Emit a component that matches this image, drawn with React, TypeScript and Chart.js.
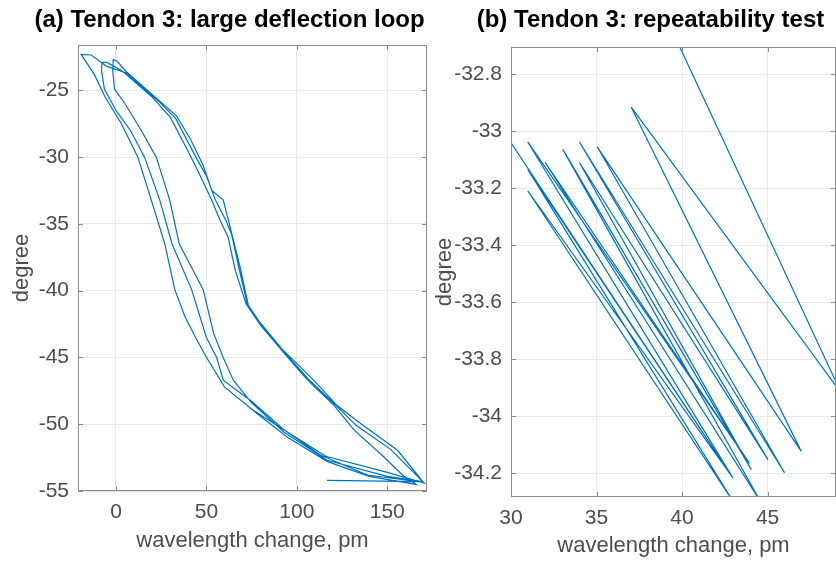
import React, { useEffect, useRef } from 'react';
import { Chart, registerables } from 'chart.js';

Chart.register(...registerables);

// ---------- Panel (a): large deflection loop ----------
const loopTitle = '(a) Tendon 3: large deflection loop';
const loopXLabel = 'wavelength change, pm';
const loopYLabel = 'degree';
const loopXTicks = [0, 50, 100, 150];
const loopYTicks = [-55, -50, -45, -40, -35, -30, -25];

const loopX = [
  116.8, 169.5,
  150, 116.8, 93, 75, 64.9, 59.3, 54, 48.2, 35, 29.7, 22.3, 14, 5, -0.8, -1.8, -1.5, 0.5,
  5.7, 24.2, 33.4, 41, 48.2, 53, 59.3, 64, 68.6, 73.2, 79.7, 92, 109.3, 122.3, 135.3, 155.7, 170,
  139, 113, 92.7, 75.1, 59.3, 55.7, 50, 41.8, 31, 24.2, 15.8, 8, 0, -6.4, -8, -7.7, -5,
  3, 20, 30, 40.8, 47, 52.9, 57.5, 62, 66, 72, 80, 95, 106, 120, 131.5, 148.2, 158.4, 166,
  140, 117, 95, 78, 60, 50.1, 44, 38, 32.5, 27, 19.5, 12.1, 3, -6, -12, -19.3, -13.8,
  -5, 5.7, 24.2, 33, 45, 50, 55, 61, 64, 68, 73, 80, 93, 107, 121, 133, 152, 170.5,
  150, 116, 95, 74.2,
];
const loopY = [
  -54.2, -54.3,
  -53.9, -52.7, -50.6, -48.4, -46.7, -45, -43.2, -39.9, -36.5, -33.2, -30, -28, -26, -24.9, -23.5, -22.7, -22.8,
  -23.6, -25.8, -26.9, -28.6, -30.6, -32.5, -33.2, -35.7, -38.2, -41.1, -42.4, -44.4, -46.7, -48.6, -49.95, -51.95, -54.35,
  -53.8, -52.3, -50.4, -48.3, -46.7, -45, -43.5, -39.9, -36.5, -33.2, -30, -28, -26.5, -24.9, -23.5, -22.9, -22.9,
  -23.5, -25.5, -27, -29.8, -31.5, -33.2, -34.7, -36, -38.5, -41, -42.6, -45, -46.7, -48.5, -50.4, -52.45, -53.8, -54.5,
  -53.9, -52.8, -51, -49.2, -47.2, -45, -43.5, -41.9, -39.9, -36.5, -33.2, -30, -27.5, -25.5, -23.8, -22.3, -22.35,
  -23.2, -23.7, -25.9, -27.1, -30.2, -31.4, -33.2, -34.8, -35.8, -38.3, -41.2, -42.5, -44.6, -46.7, -48.5, -50.1, -51.9, -54.4,
  -53.6, -52.4, -50.6, -48.8,
];

// ---------- Panel (b): repeatability test ----------
const repTitle = '(b) Tendon 3: repeatability test';
const repXLabel = 'wavelength change, pm';
const repYLabel = 'degree';
const repXTicks = [30, 35, 40, 45];
const repYTicks = [-34.2, -34, -33.8, -33.6, -33.4, -33.2, -33, -32.8];

const repX = [
  39.4, 49.3, 37.03, 46.97, 35.04, 45.99, 34.0, 45.02, 34.0, 44.05, 33.03, 44.6,
  32.0, 43.95, 30.98, 42.97, 30.98, 43.0, 30.98, 42.9, 29.0,
];
const repY = [
  -32.645, -33.918, -32.916, -34.123, -33.055, -34.198, -33.038, -34.152, -33.11, -34.187, -33.064, -34.3,
  -33.11, -34.165, -33.038, -34.216, -33.134, -34.3, -33.209, -34.21, -32.95,
];

const FONT = '"Liberation Sans", Arial, Helvetica, sans-serif';
const LINE_COLOR = '#0072BD';
const TEXT_GRAY = '#4d4d4d';
const GRID = '#e9e9e9';
const BOX = '#8a8a8a';

const fmt = (v: number) => String(+(+v).toFixed(3));

const titlePlugin = {
  id: 'panelTitle',
  afterDraw(chart: any, _args: any, opts: any) {
    const { ctx, chartArea } = chart;
    ctx.save();
    ctx.font = `bold 24px ${FONT}`;
    ctx.fillStyle = '#000';
    ctx.textAlign = 'center';
    ctx.textBaseline = 'middle';
    ctx.fillText(opts.text, (chartArea.left + chartArea.right) / 2 + opts.shift, opts.y);
    ctx.restore();
  },
};

const boxPlugin = {
  id: 'matlabBox',
  afterDatasetsDraw(chart: any) {
    const { ctx, chartArea, scales } = chart;
    const { left, right, top, bottom } = chartArea;
    const len = 5;
    ctx.save();
    ctx.strokeStyle = BOX;
    ctx.lineWidth = 1;
    ctx.beginPath();
    ctx.rect(left + 0.5, top + 0.5, right - left - 1, bottom - top - 1);
    ctx.stroke();
    ctx.beginPath();
    scales.x.ticks.forEach((t: any) => {
      const p = Math.round(scales.x.getPixelForValue(t.value)) + 0.5;
      ctx.moveTo(p, bottom); ctx.lineTo(p, bottom - len);
      ctx.moveTo(p, top); ctx.lineTo(p, top + len);
    });
    scales.y.ticks.forEach((t: any) => {
      const p = Math.round(scales.y.getPixelForValue(t.value)) + 0.5;
      ctx.moveTo(left, p); ctx.lineTo(left + len, p);
      ctx.moveTo(right, p); ctx.lineTo(right - len, p);
    });
    ctx.stroke();
    ctx.restore();
  },
};

type PanelCfg = {
  xs: number[]; ys: number[];
  xMin: number; xMax: number; yMin: number; yMax: number;
  xTicks: number[]; yTicks: number[];
  xLabel: string; yLabel: string; title: string;
  padTop: number; padRight: number;
  yAxisWidth: number; xAxisHeight: number;
  yTitlePad: number; xTitlePad: number;
};

function makeConfig(c: PanelCfg): any {
  return {
    type: 'scatter',
    data: {
      datasets: [
        {
          data: c.xs.map((x, i) => ({ x, y: c.ys[i] })),
          showLine: true,
          borderColor: LINE_COLOR,
          backgroundColor: LINE_COLOR,
          borderWidth: 1.2,
          pointRadius: 0,
          pointHoverRadius: 0,
          tension: 0,
        },
      ],
    },
    options: {
      responsive: false,
      animation: false,
      devicePixelRatio: 1,
      layout: { padding: { top: c.padTop, right: c.padRight, left: 0, bottom: 0 } },
      plugins: {
        legend: { display: false },
        tooltip: { enabled: false },
        title: { display: false },
        panelTitle: { text: c.title, shift: -23, y: 20 },
      },
      scales: {
        x: {
          type: 'linear',
          min: c.xMin,
          max: c.xMax,
          afterBuildTicks: (axis: any) => { axis.ticks = c.xTicks.map((v) => ({ value: v })); },
          afterFit: (axis: any) => { axis.height = c.xAxisHeight; },
          ticks: {
            callback: (v: any) => fmt(v),
            color: TEXT_GRAY,
            font: { family: FONT, size: 21 },
            padding: 9,
            maxRotation: 0,
            autoSkip: false,
          },
          grid: { color: GRID, drawTicks: false, lineWidth: 1 },
          border: { display: false },
          title: {
            display: true,
            text: c.xLabel,
            color: TEXT_GRAY,
            font: { family: FONT, size: 22 },
            padding: { top: 0, bottom: c.xTitlePad },
          },
        },
        y: {
          type: 'linear',
          min: c.yMin,
          max: c.yMax,
          afterBuildTicks: (axis: any) => { axis.ticks = c.yTicks.map((v) => ({ value: v })); },
          afterFit: (axis: any) => { axis.width = c.yAxisWidth; },
          ticks: {
            callback: (v: any) => fmt(v),
            color: TEXT_GRAY,
            font: { family: FONT, size: 21 },
            padding: 9,
            autoSkip: false,
          },
          grid: { color: GRID, drawTicks: false, lineWidth: 1 },
          border: { display: false },
          title: {
            display: true,
            text: c.yLabel,
            color: TEXT_GRAY,
            font: { family: FONT, size: 22 },
            padding: { top: c.yTitlePad, bottom: 0 },
          },
        },
      },
    },
    plugins: [titlePlugin, boxPlugin],
  };
}

export default function App() {
  const leftRef = useRef<HTMLCanvasElement>(null);
  const rightRef = useRef<HTMLCanvasElement>(null);

  useEffect(() => {
    const a = new Chart(leftRef.current!, makeConfig({
      xs: loopX, ys: loopY,
      xMin: -21, xMax: 172, yMin: -55, yMax: -21.6,
      xTicks: loopXTicks, yTicks: loopYTicks,
      xLabel: loopXLabel, yLabel: loopYLabel, title: loopTitle,
      padTop: 45, padRight: 3, yAxisWidth: 78, xAxisHeight: 73,
      yTitlePad: 9, xTitlePad: 10,
    }));
    const b = new Chart(rightRef.current!, makeConfig({
      xs: repX, ys: repY,
      xMin: 30, xMax: 49, yMin: -34.283, yMax: -32.705,
      xTicks: repXTicks, yTicks: repYTicks,
      xLabel: repXLabel, yLabel: repYLabel, title: repTitle,
      padTop: 47, padRight: 0, yAxisWidth: 81, xAxisHeight: 67,
      yTitlePad: 2, xTitlePad: 5,
    }));
    return () => { a.destroy(); b.destroy(); };
  }, []);

  return (
    <div style={{ position: 'absolute', left: 0, top: 0, width: 836, height: 564, background: '#fff', overflow: 'hidden' }}>
      <canvas ref={leftRef} width={430} height={564} style={{ position: 'absolute', left: 0, top: 0, width: 430, height: 564 }} />
      <canvas ref={rightRef} width={406} height={564} style={{ position: 'absolute', left: 430, top: 0, width: 406, height: 564 }} />
    </div>
  );
}
